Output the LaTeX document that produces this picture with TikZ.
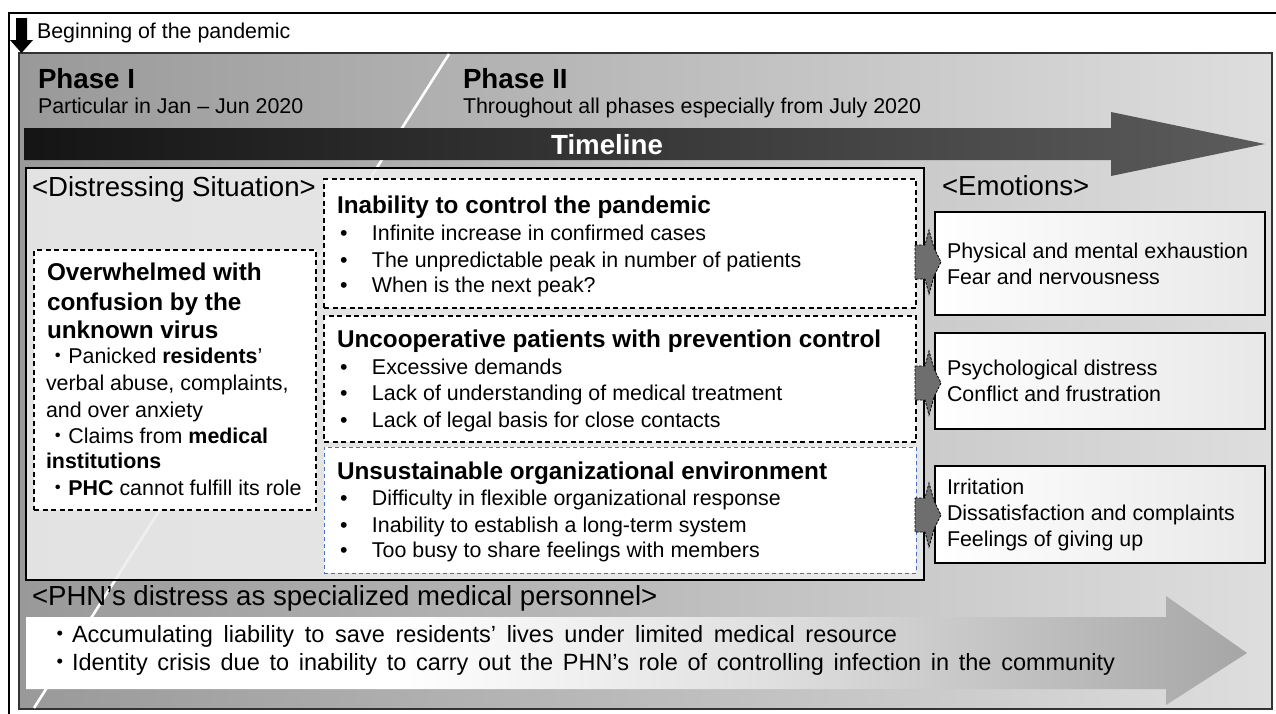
\documentclass[tikz,border=0pt]{standalone}
\usepackage{fontspec}
\setmainfont{Liberation Sans}
\newfontfamily\cjkfont{Noto Sans CJK JP}
\definecolor{boxblue}{RGB}{68,114,196}
\newcommand\blt{\makebox[32pt][l]{•}}
\newcommand\jdot{{\cjkfont ・}}
% white on the left, fading to mid grey towards the arrow head
\pgfdeclarehorizontalshading{bottomarrowshade}{100bp}{color(0bp)=(white); color(25bp)=(white); color(40bp)=(white); color(55bp)=(black!12); color(75bp)=(black!35); color(100bp)=(black!35)}
\begin{document}
\begin{tikzpicture}[x=1pt, y=-1pt,
  txt/.style={anchor=base west, inner sep=0pt, outer sep=0pt, font=\fontsize{21.4}{26}\selectfont},
  bigtxt/.style={txt, font=\fontsize{23.5}{28}\selectfont},
  hdr/.style={txt, font=\fontsize{27.6}{32}\selectfont},
  phase/.style={txt, font=\fontsize{27.7}{32}\selectfont\bfseries},
  ttl/.style={txt, font=\fontsize{24.3}{28}\selectfont\bfseries},
  frame/.style={anchor=north west, inner sep=0pt, outer sep=0pt},
  dashbox/.style={frame, draw=black, fill=white, line width=1.1pt, dash pattern=on 5pt off 3.5pt},
  bluebox/.style={frame, draw=boxblue, fill=white, line width=1pt, dash pattern=on 4pt off 3pt},
  emobox/.style={frame, draw=black, line width=1.2pt, left color=white, right color=black!9},
  emoarrow/.style={fill=black!57, draw=black, line width=0.8pt, dash pattern=on 2.5pt off 1.5pt},
]
\useasboundingbox (0,0) rectangle (1276,713);

% outer frame (open to the right and bottom)
\begin{scope}
  \clip (0,0) rectangle (1276,713);
  \draw[line width=1.2pt] (9,730) -- (9,13) -- (1290,13);
\end{scope}

% grey panel holding both phases
\node[frame, minimum width=1253pt, minimum height=656pt, draw=black!80, line width=1.5pt,
      left color=black!40, right color=black!13] (panel) at (19,53) {};

% divider between phase I and phase II
\coordinate (divtop) at (449,54);
\coordinate (divbot) at (34,708);
\draw[white, line width=2.6pt] (divtop) -- (divbot);

% start marker
\fill (16,18) -- (27,18) -- (27,40) -- (33,40) -- (21.5,53) -- (10,40) -- (16,40) -- cycle;
\node[txt] (begin) at (37,38) {Beginning of the pandemic};

% phase headings
\node[phase] (p1) at (38,88) {Phase I};
\node[txt] (p1s) at (38,113) {Particular in Jan – Jun 2020};
\node[phase] (p2) at (463,88) {Phase II};
\node[txt] (p2s) at (463,113) {Throughout all phases especially from July 2020};

% timeline arrow
\path[left color=black!92, right color=black!64]
  (24,128) -- (1111,128) -- (1111,112) -- (1265,144) -- (1111,176) -- (1111,160) -- (24,160) -- cycle;
\node[phase, white, anchor=base] (tl) at (607,154) {Timeline};

% distressing situation block
\node[frame, minimum width=898pt, minimum height=412pt, draw=black, line width=1.3pt,
      fill=black!7, fill opacity=0.88] (situation) at (26,168) {};
\node[hdr] (sith) at (32,196) {<Distressing Situation>};

% unknown virus box
\node[dashbox, minimum width=282pt, minimum height=260pt] (unknown) at (34,250) {};
\node[ttl] (u1) at (47,280) {Overwhelmed with};
\node[ttl] (u2) at (47,310) {confusion by the};
\node[ttl] (u3) at (47,338) {unknown virus};
\node[txt] (u4) at (47,363) {\jdot Panicked \textbf{residents}’};
\node[txt] (u5) at (46,390) {verbal abuse, complaints,};
\node[txt] (u6) at (46,417) {and over anxiety};
\node[txt] (u7) at (47,443) {\jdot Claims from \textbf{medical}};
\node[txt] (u8) at (46,468) {\textbf{institutions}};
\node[txt] (u9) at (47,495) {\jdot\textbf{PHC} cannot fulfill its role};

% pandemic control box
\node[dashbox, minimum width=592pt, minimum height=129pt] (control) at (324,179) {};
\node[ttl] (c0) at (337,213) {Inability to control the pandemic};
\node[txt] (c1) at (340,240) {\blt Infinite increase in confirmed cases};
\node[txt] (c2) at (340,267) {\blt The unpredictable peak in number of patients};
\node[txt] (c3) at (340,292) {\blt When is the next peak?};

% patients box
\node[dashbox, minimum width=592pt, minimum height=126pt] (patients) at (324,316) {};
\node[ttl] (q0) at (337,347) {Uncooperative patients with prevention control};
\node[txt] (q1) at (340,374) {\blt Excessive demands};
\node[txt] (q2) at (340,400) {\blt Lack of understanding of medical treatment};
\node[txt] (q3) at (340,427) {\blt Lack of legal basis for close contacts};

% organisation box
\node[bluebox, minimum width=592pt, minimum height=126pt] (org) at (324,447) {};
\node[ttl] (o0) at (337,479) {Unsustainable organizational environment};
\node[txt] (o1) at (340,505) {\blt Difficulty in flexible organizational response};
\node[txt] (o2) at (340,532) {\blt Inability to establish a long-term system};
\node[txt] (o3) at (340,557) {\blt Too busy to share feelings with members};

% emotions
\node[hdr] (emoh) at (942,195) {<Emotions>};
\node[emobox, minimum width=330pt, minimum height=103pt] (emo1) at (935,212) {};
\node[emobox, minimum width=330pt, minimum height=96pt] (emo2) at (935,333) {};
\node[emobox, minimum width=330pt, minimum height=97pt] (emo3) at (935,466) {};
\node[txt, anchor=west, align=left] (e1) at ([xshift=12pt]emo1.west) {Physical and mental exhaustion\\Fear and nervousness};
\node[txt, anchor=west, align=left] (e2) at ([xshift=12pt]emo2.west) {Psychological distress\\Conflict and frustration};
\node[txt, anchor=west, align=left] (e3) at ([xshift=12pt]emo3.west) {Irritation\\Dissatisfaction and complaints\\Feelings of giving up};

% jagged arrows from situations to emotions
\foreach \yy in {262,383,515} {
  \begin{scope}[shift={(0,\yy)}]
    \path[emoarrow] (915,-17) -- (925,-17) -- (929,-32) -- (934,-14) -- (941,0)
      -- (934,14) -- (929,32) -- (925,17) -- (915,17) -- cycle;
  \end{scope}
}

% professional distress arrow
\path[shading=bottomarrowshade]
  (26,617) -- (1166,617) -- (1166,596) -- (1247,653) -- (1166,705) -- (1166,689) -- (26,689) -- cycle;
\node[hdr] (phnh) at (32,605) {<PHN’s distress as specialized medical personnel>};
\node[bigtxt] (b1) at (48.5,642) {\jdot\makebox[825pt][s]{Accumulating liability to save residents’ lives under limited medical resource}};
\node[bigtxt] (b2) at (48.5,670) {\jdot\makebox[1043pt][s]{Identity crisis due to inability to carry out the PHN’s role of controlling infection in the community}};
\end{tikzpicture}
\end{document}
